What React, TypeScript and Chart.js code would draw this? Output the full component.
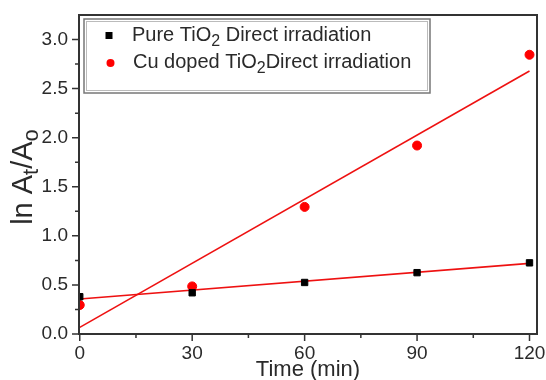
import React, { useEffect, useRef } from "react";
import { Chart, registerables } from "chart.js";

Chart.register(...registerables);

const times = [0, 30, 60, 90, 120];
const pureTiO2 = [0.38, 0.42, 0.525, 0.625, 0.725];
const cuDopedTiO2 = [0.295, 0.485, 1.295, 1.92, 2.845];
const fitTimes = [0, 120];
const pureFit = [0.356, 0.72];
const cuFit = [0.068, 2.68];
const xTicks = [0, 30, 60, 90, 120];
const yTicks = [0, 0.5, 1.0, 1.5, 2.0, 2.5, 3.0];
const xMinorTicks = [15, 45, 75, 105];
const yMinorTicks = [0.25, 0.75, 1.25, 1.75, 2.25, 2.75];

const FONT = "'Liberation Sans', Arial, sans-serif";
const TEXT = "#2a2a2a";

const drawSubText = (
  ctx: CanvasRenderingContext2D,
  parts: { t: string; sub?: boolean }[],
  x: number,
  y: number,
  size: number,
  subSize: number,
  subDrop: number
) => {
  let cx = x;
  for (const p of parts) {
    ctx.font = `${p.sub ? subSize : size}px ${FONT}`;
    ctx.fillText(p.t, cx, p.sub ? y + subDrop : y);
    cx += ctx.measureText(p.t).width;
  }
  return cx;
};

const decorPlugin = {
  id: "decor",
  afterDraw(chart: any) {
    const { ctx, chartArea, scales } = chart;
    const xs = scales.x;
    const ys = scales.y;
    ctx.save();
    // frame
    ctx.strokeStyle = "#333";
    ctx.lineWidth = 2;
    ctx.strokeRect(chartArea.left, chartArea.top, chartArea.right - chartArea.left, chartArea.bottom - chartArea.top);
    // ticks
    ctx.lineWidth = 1.5;
    ctx.beginPath();
    for (const v of xTicks) {
      const px = xs.getPixelForValue(v);
      ctx.moveTo(px, chartArea.bottom);
      ctx.lineTo(px, chartArea.bottom + 7);
    }
    for (const v of xMinorTicks) {
      const px = xs.getPixelForValue(v);
      ctx.moveTo(px, chartArea.bottom);
      ctx.lineTo(px, chartArea.bottom + 4);
    }
    for (const v of yTicks) {
      const py = ys.getPixelForValue(v);
      ctx.moveTo(chartArea.left, py);
      ctx.lineTo(chartArea.left - 7, py);
    }
    for (const v of yMinorTicks) {
      const py = ys.getPixelForValue(v);
      ctx.moveTo(chartArea.left, py);
      ctx.lineTo(chartArea.left - 4, py);
    }
    ctx.stroke();

    // legend box
    ctx.strokeStyle = "#777";
    ctx.lineWidth = 1.5;
    ctx.strokeRect(84, 19, 346, 74);
    ctx.strokeStyle = "#bbb";
    ctx.lineWidth = 1;
    ctx.strokeRect(86.5, 21.5, 341, 69);

    // legend entries
    ctx.fillStyle = "#000";
    ctx.fillRect(105.5, 32, 7, 7);
    ctx.fillStyle = "#ff0000";
    ctx.beginPath();
    ctx.arc(110.5, 63, 4, 0, Math.PI * 2);
    ctx.fill();

    ctx.fillStyle = TEXT;
    ctx.textBaseline = "alphabetic";
    ctx.textAlign = "left";
    drawSubText(
      ctx,
      [{ t: "Pure TiO" }, { t: "2", sub: true }, { t: " Direct irradiation" }],
      132,
      41,
      20,
      16,
      5
    );
    drawSubText(
      ctx,
      [{ t: "Cu doped TiO" }, { t: "2", sub: true }, { t: "Direct irradiation" }],
      133,
      68,
      20,
      16,
      5
    );

    // y title rotated
    ctx.save();
    ctx.translate(32, 177);
    ctx.rotate(-Math.PI / 2);
    const parts = [{ t: "ln A" }, { t: "t", sub: true }, { t: "/A" }, { t: "o", sub: true }];
    let w = 0;
    for (const p of parts) {
      ctx.font = `${p.sub ? 22 : 29}px ${FONT}`;
      w += ctx.measureText(p.t).width;
    }
    drawSubText(ctx, parts, -w / 2, 0, 29, 22, 6);
    ctx.restore();

    ctx.restore();
  },
};

export default function App() {
  const ref = useRef<HTMLCanvasElement | null>(null);
  useEffect(() => {
    if (!ref.current) return;
    const chart = new Chart(ref.current, {
      type: "scatter",
      data: {
        datasets: [
          {
            label: "Pure TiO2 Direct irradiation",
            data: times.map((t, i) => ({ x: t, y: pureTiO2[i] })),
            backgroundColor: "#000",
            borderColor: "#000",
            pointStyle: "rect",
            pointRadius: 4.5,
            order: 0,
          },
          {
            label: "Cu doped TiO2Direct irradiation",
            data: times.map((t, i) => ({ x: t, y: cuDopedTiO2[i] })),
            backgroundColor: "#ff0000",
            borderColor: "#ff0000",
            pointStyle: "circle",
            pointRadius: 4.5,
            order: 0,
          },
          {
            type: "line",
            label: "Pure fit",
            data: fitTimes.map((t, i) => ({ x: t, y: pureFit[i] })),
            borderColor: "#ee1111",
            borderWidth: 1.6,
            pointRadius: 0,
            order: 1,
          } as any,
          {
            type: "line",
            label: "Cu fit",
            data: fitTimes.map((t, i) => ({ x: t, y: cuFit[i] })),
            borderColor: "#ee1111",
            borderWidth: 1.6,
            pointRadius: 0,
            order: 1,
          } as any,
        ],
      },
      options: {
        animation: false,
        responsive: false,
        maintainAspectRatio: false,
        layout: { padding: { top: 15, right: 9, left: 0, bottom: 0 } },
        plugins: {
          legend: { display: false },
          tooltip: { enabled: false },
        },
        scales: {
          x: {
            type: "linear",
            min: -0.2,
            max: 122,
            afterBuildTicks: (s: any) => {
              s.ticks = xTicks.map((v) => ({ value: v }));
            },
            afterFit: (s: any) => {
              s.height = 46;
              s.paddingLeft = 0;
              s.paddingRight = 0;
              s.paddingTop = 0;
              s.paddingBottom = 0;
            },
            grid: { display: false, drawTicks: false },
            border: { display: false },
            ticks: {
              color: TEXT,
              font: { size: 19, family: FONT },
              padding: 8,
              maxRotation: 0,
              callback: (v: any) => String(v),
            },
            title: {
              display: true,
              text: "Time (min)",
              color: TEXT,
              font: { size: 22, family: FONT },
              padding: { top: 0, bottom: -3 },
            },
          },
          y: {
            type: "linear",
            min: 0,
            max: 3.25,
            afterBuildTicks: (s: any) => {
              s.ticks = yTicks.map((v) => ({ value: v }));
            },
            afterFit: (s: any) => {
              s.width = 79;
              s.paddingLeft = 0;
              s.paddingRight = 0;
              s.paddingTop = 0;
              s.paddingBottom = 0;
            },
            grid: { display: false, drawTicks: false },
            border: { display: false },
            ticks: {
              color: TEXT,
              font: { size: 19, family: FONT },
              padding: 11,
              callback: (v: any) => Number(v).toFixed(1),
            },
          },
        },
      },
      plugins: [decorPlugin],
    } as any);
    return () => chart.destroy();
  }, []);
  return (
    <div style={{ position: "fixed", left: 0, top: 0, width: 546, height: 380, background: "#fff" }}>
      <canvas ref={ref} width={546} height={380} style={{ width: 546, height: 380, display: "block" }} />
    </div>
  );
}
